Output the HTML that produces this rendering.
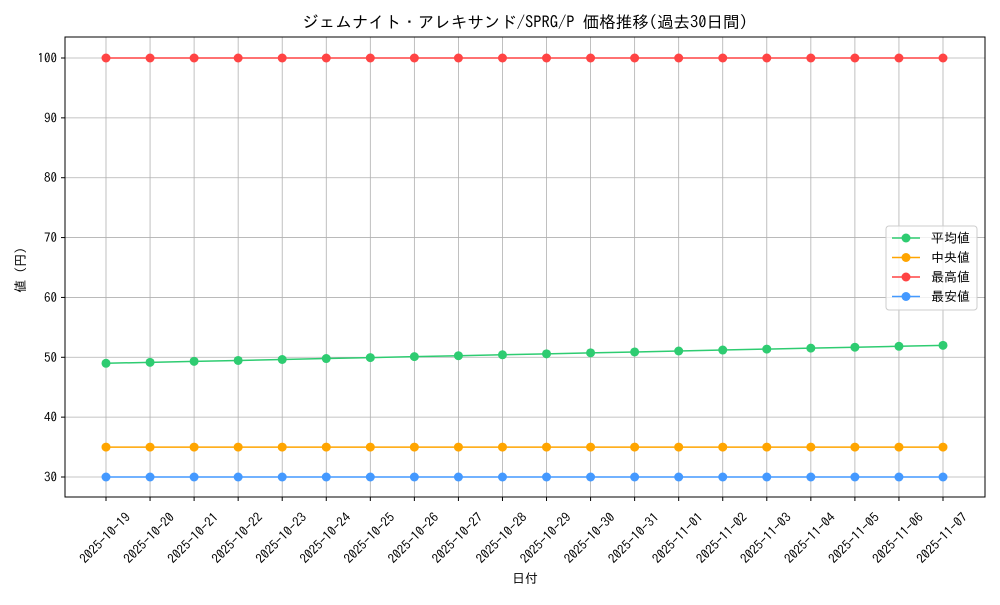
<!DOCTYPE html>
<html><head><meta charset="utf-8"><style>
body{margin:0;background:#fff}
text{font-family:"IPAGothic","Liberation Sans","Noto Sans CJK JP",sans-serif;fill:#000}
</style></head><body>
<svg id="c" width="1000" height="600" xmlns="http://www.w3.org/2000/svg"></svg>
<script>
const dates=["2025-10-19","2025-10-20","2025-10-21","2025-10-22","2025-10-23","2025-10-24","2025-10-25","2025-10-26","2025-10-27","2025-10-28","2025-10-29","2025-10-30","2025-10-31","2025-11-01","2025-11-02","2025-11-03","2025-11-04","2025-11-05","2025-11-06","2025-11-07"];
const avgValues=[49.0,49.16,49.32,49.47,49.63,49.79,49.95,50.11,50.26,50.42,50.58,50.74,50.89,51.05,51.21,51.37,51.53,51.68,51.84,52.0];
const medianValues=[35,35,35,35,35,35,35,35,35,35,35,35,35,35,35,35,35,35,35,35];
const maxValues=[100,100,100,100,100,100,100,100,100,100,100,100,100,100,100,100,100,100,100,100];
const minValues=[30,30,30,30,30,30,30,30,30,30,30,30,30,30,30,30,30,30,30,30];
const yTicks=[30,40,50,60,70,80,90,100];
const seriesNames=["平均値","中央値","最高値","最安値"];
const svg=document.getElementById('c');const NS="http://www.w3.org/2000/svg";
function el(t,a,p){const e=document.createElementNS(NS,t);for(const k in a)e.setAttribute(k,a[k]);(p||svg).appendChild(e);return e;}
const L=65,R=985,T=37,B=497;
const xs=i=>106+i*(943-106)/(dates.length-1);
const ys=v=>477-(v-30)*(477-58)/70;
let g;
g=el('g',{});
dates.forEach((d,i)=>{el('line',{x1:xs(i),x2:xs(i),y1:T,y2:B,stroke:'#b0b0b0','stroke-width':0.8},g);});
yTicks.forEach(v=>{el('line',{x1:L,x2:R,y1:ys(v),y2:ys(v),stroke:'#b0b0b0','stroke-width':0.8},g);});
const data=[[avgValues,'#2ecc71'],[medianValues,'#ffa500'],[maxValues,'#ff4444'],[minValues,'#4499ff']];
data.forEach(([vals,c],k)=>{
 const s=el('g',{});
 el('polyline',{points:vals.map((v,i)=>xs(i)+','+ys(v)).join(' '),fill:'none',stroke:c,'stroke-width':1.5},s);
 vals.forEach((v,i)=>{const p=el('circle',{cx:xs(i),cy:ys(v),r:4.5,fill:c},s);});
});
el('rect',{x:L,y:T,width:R-L,height:B-T,fill:'none',stroke:'#000','stroke-width':1});
const ya=el('g',{});
yTicks.forEach(v=>{el('line',{x1:L-4,x2:L,y1:ys(v),y2:ys(v),stroke:'#000'},ya);const t=el('text',{x:L-8,y:ys(v)+4.5,'text-anchor':'end','font-size':13},ya);t.textContent=v;});
const xa=el('g',{});
dates.forEach((d,i)=>{el('line',{x1:xs(i),x2:xs(i),y1:B,y2:B+4,stroke:'#000'},xa);const cx=xs(i)-1,cy=538;const t=el('text',{x:cx,y:cy+4.5,'text-anchor':'middle','font-size':13,transform:`rotate(-45 ${cx} ${cy})`},xa);t.textContent=d;});
let t=el('text',{x:525,y:583,'text-anchor':'middle','font-size':13});t.textContent='日付';
t=el('text',{x:25,y:270,'text-anchor':'middle','font-size':13,transform:'rotate(-90 25 270)'});t.textContent='値 (円)';
t=el('text',{x:525,y:28,'text-anchor':'middle','font-size':16.5});t.textContent='ジェムナイト・アレキサンド/SPRG/P 価格推移(過去30日間)';
const lg=el('g',{});
el('rect',{x:886,y:226,width:91,height:84,rx:3,fill:'#fff','fill-opacity':0.8,stroke:'#ccc'},lg);
data.forEach(([v,c],k)=>{const y=238+k*19.5;const e=el('g',{},lg);
 el('line',{x1:892,x2:920,y1:y,y2:y,stroke:c,'stroke-width':1.5},e);el('circle',{cx:906,cy:y,r:4.5,fill:c},e);
 const tx=el('text',{x:931,y:y+4.5,'font-size':13},e);tx.textContent=seriesNames[k];});
</script>
</body></html>
